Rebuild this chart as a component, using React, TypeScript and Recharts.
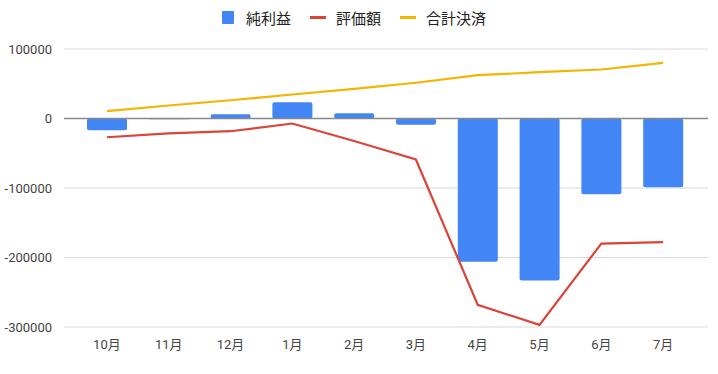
import React from 'react';
import { ComposedChart, Bar, Line, XAxis, YAxis, CartesianGrid, ReferenceLine } from 'recharts';

const months = ['10月', '11月', '12月', '1月', '2月', '3月', '4月', '5月', '6月', '7月'];
const netProfit = [-17000, -1200, 6000, 23500, 7500, -9000, -206000, -233000, -109000, -99000];
const valuation = [-27000, -21500, -18300, -7200, -32400, -59000, -268000, -297000, -180000, -178000];
const settlement = [10500, 18700, 26300, 34500, 42700, 51400, 62300, 66600, 70500, 80100];
const yTicks = [100000, 0, -100000, -200000, -300000];

const data = months.map((m, i) => ({
  month: m,
  net: netProfit[i],
  val: valuation[i],
  settle: settlement[i],
}));

const FONT = 'Roboto, Arial, "Noto Sans CJK JP", sans-serif';

const legendItems = [
  { label: '純利益', color: '#4285f4', type: 'square' },
  { label: '評価額', color: '#db4437', type: 'line' },
  { label: '合計決済', color: '#f4b400', type: 'line' },
];

function TopLegend() {
  return (
    <div
      style={{
        position: 'absolute',
        top: 7,
        left: 0,
        width: 708,
        display: 'flex',
        justifyContent: 'center',
        alignItems: 'center',
        fontFamily: FONT,
        fontSize: 15,
        color: '#222',
      }}
    >
      {legendItems.map((it, i) => (
        <div key={it.label} style={{ display: 'flex', alignItems: 'center', marginLeft: i === 0 ? 0 : 19 }}>
          {it.type === 'square' ? (
            <span style={{ display: 'inline-block', width: 12, height: 13, background: it.color, borderRadius: 1 }} />
          ) : (
            <span style={{ display: 'inline-block', width: 16, height: 3, background: it.color }} />
          )}
          <span style={{ marginLeft: it.type === 'square' ? 12 : 10 }}>{it.label}</span>
        </div>
      ))}
    </div>
  );
}

export default function App() {
  return (
    <div style={{ position: 'absolute', left: 0, top: 0, width: 718, height: 374, background: '#fff' }}>
      <TopLegend />
      <ComposedChart
        width={718}
        height={374}
        data={data}
        margin={{ top: 49, right: 10, bottom: 0, left: 0 }}
        barCategoryGap={11}
      >
        <CartesianGrid horizontal vertical={false} stroke="#d9d9d9" strokeWidth={1} />
        <XAxis
          dataKey="month"
          axisLine={false}
          tickLine={false}
          height={47}
          padding={{ left: 12, right: 14 }}
          tick={{ fill: '#444', fontSize: 13, fontFamily: FONT }}
          tickMargin={7}
          interval={0}
        />
        <YAxis
          width={64}
          domain={[-300000, 100000]}
          ticks={yTicks}
          axisLine={false}
          tickLine={false}
          tick={{ fill: '#444', fontSize: 13, fontFamily: FONT }}
          tickMargin={6}
          interval={0}
        />
        <Bar dataKey="net" fill="#4285f4" barSize={40} radius={2} isAnimationActive={false} />
        <ReferenceLine y={0} stroke="#888" strokeWidth={1.5} />
        <Line dataKey="val" stroke="#db4437" strokeWidth={2.2} dot={false} type="linear" isAnimationActive={false} />
        <Line dataKey="settle" stroke="#f4b400" strokeWidth={2.2} dot={false} type="linear" isAnimationActive={false} />
      </ComposedChart>
    </div>
  );
}
